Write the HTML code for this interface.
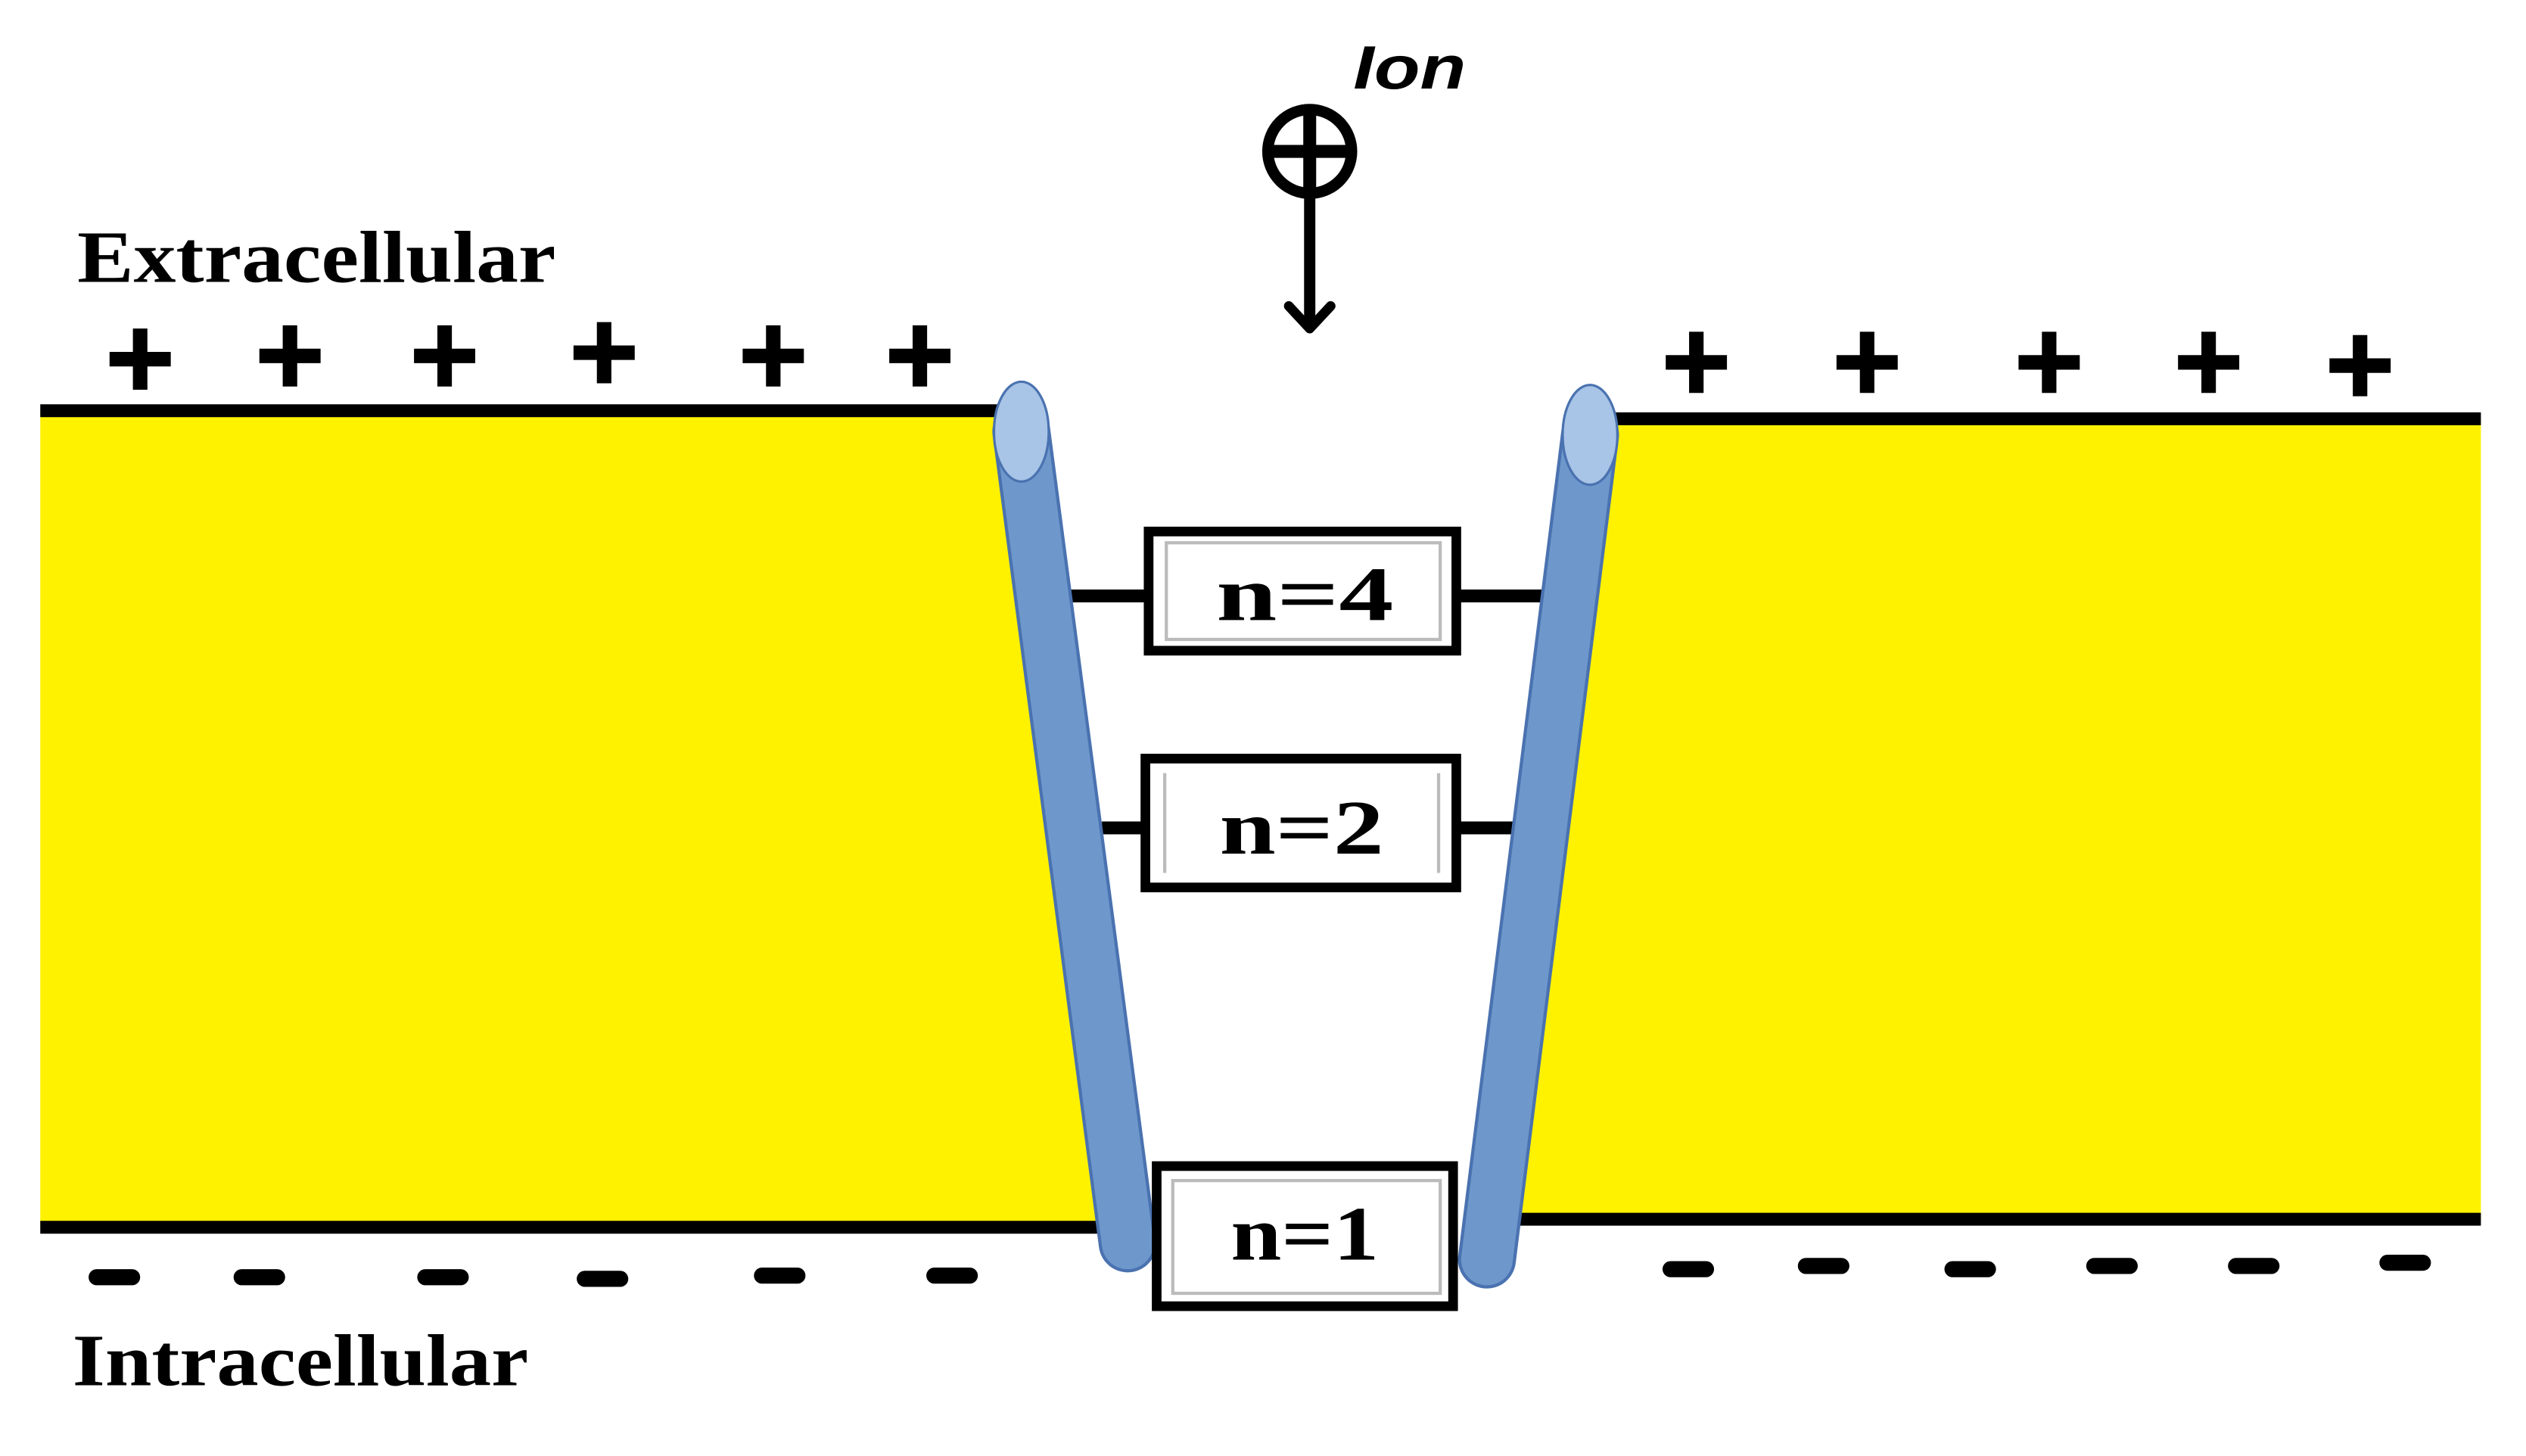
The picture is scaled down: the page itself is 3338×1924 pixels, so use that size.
<!DOCTYPE html>
<html><head><meta charset="utf-8"><style>html,body{margin:0;padding:0;background:#fff}svg{display:block}</style></head>
<body>
<svg width="3338" height="1924" viewBox="0 0 1568 904" preserveAspectRatio="none" xmlns="http://www.w3.org/2000/svg">
<rect width="1568" height="904" fill="#fff"/>
<polygon points="25,255 628,255 700,762 25,762" fill="#fff200"/>
<polygon points="992,260 1540,260 1540,757 926,757" fill="#fff200"/>
<g stroke="#000" stroke-width="8">
<line x1="25" y1="255" x2="622" y2="255"/>
<line x1="25" y1="762" x2="688" y2="762"/>
<line x1="1000" y1="260" x2="1540" y2="260"/>
<line x1="938" y1="757" x2="1540" y2="757"/>
<line x1="663" y1="370" x2="714" y2="370"/>
<line x1="904" y1="370" x2="957" y2="370"/>
<line x1="684" y1="514" x2="712" y2="514"/>
<line x1="904" y1="514" x2="940" y2="514"/>
</g>
<g stroke-linecap="round">
<line x1="634" y1="268" x2="700" y2="772" stroke="#4a72b0" stroke-width="36"/>
<line x1="634" y1="268" x2="700" y2="772" stroke="#6e98cc" stroke-width="32"/>
<line x1="987" y1="270" x2="923" y2="782" stroke="#4a72b0" stroke-width="36"/>
<line x1="987" y1="270" x2="923" y2="782" stroke="#6e98cc" stroke-width="32"/>
</g>
<ellipse cx="634" cy="268" rx="17" ry="31" fill="#a8c4e6" stroke="#4a72b0" stroke-width="1.5"/>
<ellipse cx="987" cy="270" rx="17" ry="31" fill="#a8c4e6" stroke="#4a72b0" stroke-width="1.5"/>
<g fill="#fff" stroke="#000" stroke-width="6">
<rect x="713" y="330" width="191" height="74"/>
<rect x="711" y="471" width="193" height="80"/>
<rect x="718" y="724" width="184" height="87"/>
</g>
<g fill="none" stroke="#bbb" stroke-width="2">
<rect x="724" y="337" width="170" height="60"/>
<line x1="723" y1="480" x2="723" y2="542"/><line x1="893" y1="480" x2="893" y2="542"/>
<rect x="728" y="733" width="166" height="70"/>
</g>
<g font-family="'Liberation Serif',serif" font-weight="bold" font-size="48" fill="#000">
<text x="755" y="385" textLength="110" lengthAdjust="spacingAndGlyphs">n=4</text>
<text x="757" y="530" textLength="102" lengthAdjust="spacingAndGlyphs">n=2</text>
<text x="764" y="782" textLength="92" lengthAdjust="spacingAndGlyphs">n=1</text>
</g>
<circle cx="813" cy="94" r="26" fill="#fff" stroke="#000" stroke-width="7"/>
<line x1="813" y1="70" x2="813" y2="118" stroke="#000" stroke-width="8"/>
<line x1="789" y1="94" x2="837" y2="94" stroke="#000" stroke-width="8"/>
<line x1="813" y1="118" x2="813" y2="200" stroke="#000" stroke-width="7"/>
<path d="M800,190 L813,204 L826,190" fill="none" stroke="#000" stroke-width="6" stroke-linejoin="round" stroke-linecap="round"/>
<text x="840" y="55" font-family="'Liberation Sans',sans-serif" font-weight="bold" font-style="italic" font-size="38" textLength="70" lengthAdjust="spacingAndGlyphs">Ion</text>
<g font-family="'Liberation Serif',serif" font-weight="bold" font-size="46" fill="#000">
<text x="48" y="175" textLength="297" lengthAdjust="spacingAndGlyphs">Extracellular</text>
<text x="45" y="860" textLength="283" lengthAdjust="spacingAndGlyphs">Intracellular</text>
</g>
<g stroke="#000" stroke-width="9">
<path d="M87,204v38M68,223h38 M180,202v38M161,221h38 M276,202v38M257,221h38 M375,200v38M356,219h38 M480,202v38M461,221h38 M571,202v38M552,221h38"/>
<path d="M1053,206v38M1034,225h38 M1159,206v38M1140,225h38 M1272,206v38M1253,225h38 M1371,206v38M1352,225h38 M1465,208v38M1446,227h38"/>
</g>
<g stroke="#000" stroke-width="10" stroke-linecap="round">
<path d="M60,793h22 M150,793h22 M264,793h22 M363,794h22 M473,792h22 M580,792h22"/>
<path d="M1037,788h22 M1121,786h22 M1212,788h22 M1300,786h22 M1388,786h22 M1482,784h22"/>
</g>
</svg>
</body></html>
